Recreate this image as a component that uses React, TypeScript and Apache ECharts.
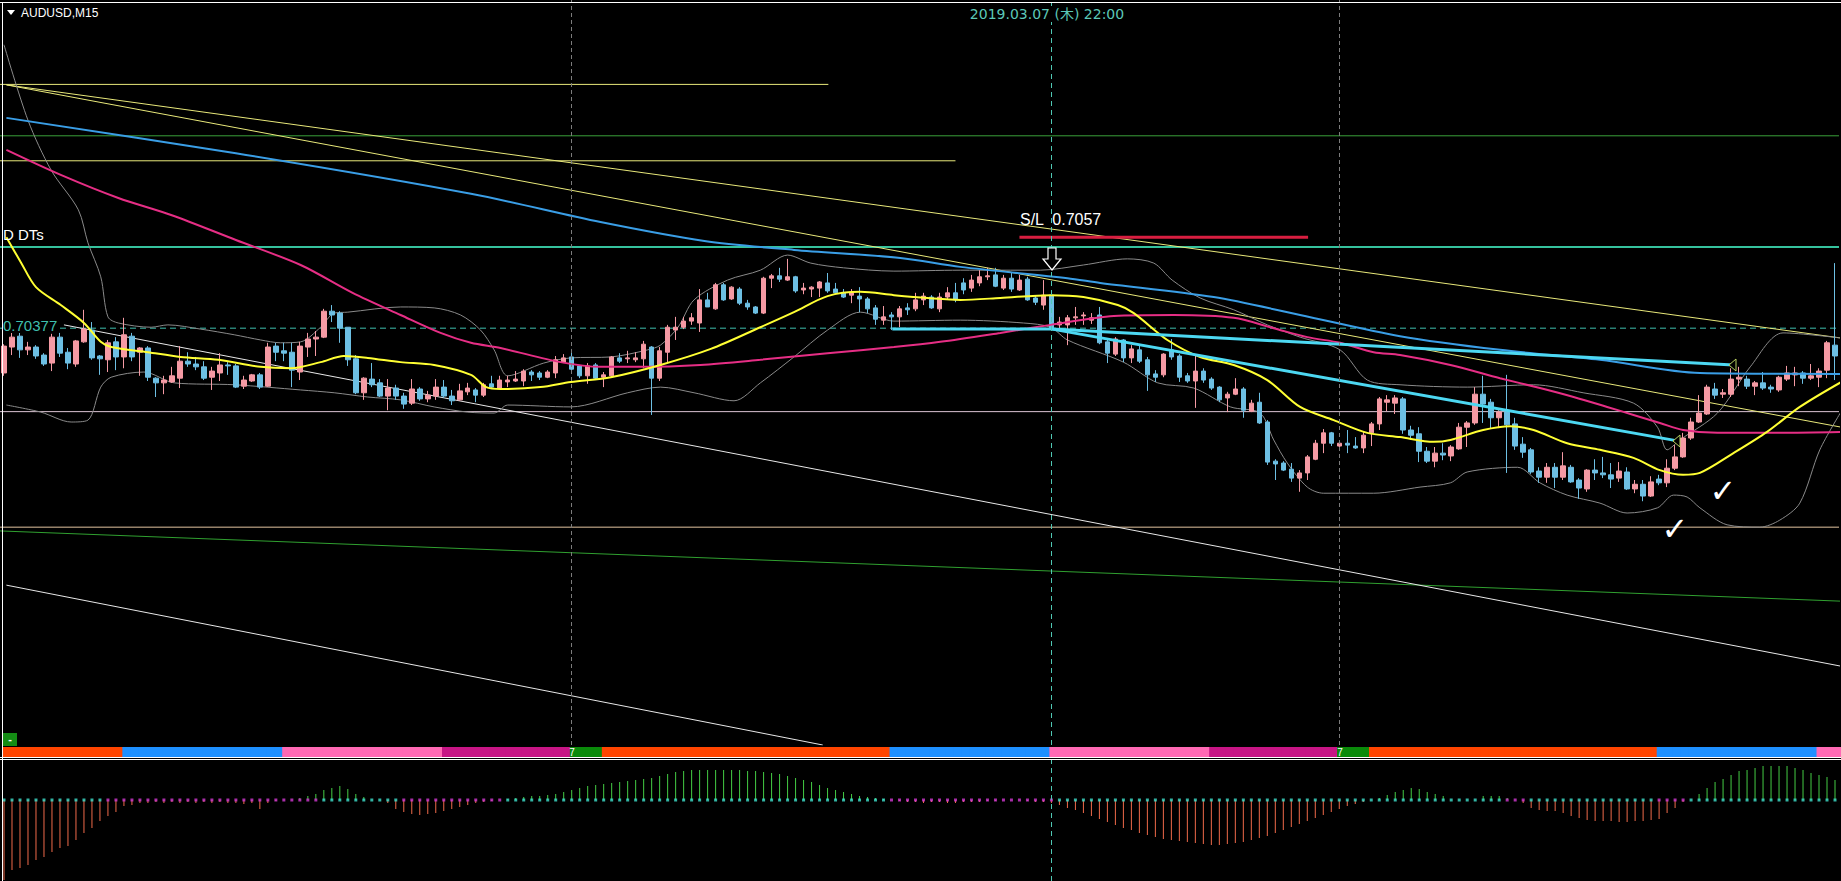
import React, { useEffect, useRef } from "react";
import * as echarts from "echarts";

// ---------- candle data (AUDUSD M15) ----------
const OPEN = [
  0.70282,0.70337,0.70360,0.70331,0.70337,0.70320,0.70303,0.70358,0.70326,0.70301,
  0.70348,0.70373,0.70318,0.70310,0.70348,0.70316,0.70360,0.70326,0.70335,0.70271,
  0.70261,0.70263,0.70271,0.70307,0.70301,0.70295,0.70273,0.70282,0.70299,0.70297,
  0.70254,0.70265,0.70278,0.70254,0.70339,0.70329,0.70326,0.70284,0.70337,0.70354,
  0.70358,0.70413,0.70409,0.70379,0.70312,0.70240,0.70269,0.70261,0.70233,0.70250,
  0.70233,0.70218,0.70248,0.70227,0.70233,0.70252,0.70233,0.70225,0.70242,0.70246,
  0.70235,0.70259,0.70250,0.70263,0.70265,0.70265,0.70284,0.70282,0.70273,0.70282,
  0.70305,0.70316,0.70297,0.70276,0.70299,0.70273,0.70276,0.70314,0.70312,0.70310,
  0.70312,0.70337,0.70271,0.70326,0.70373,0.70379,0.70392,0.70388,0.70437,0.70418,
  0.70469,0.70439,0.70460,0.70430,0.70422,0.70409,0.70483,0.70488,0.70479,0.70486,
  0.70458,0.70460,0.70462,0.70473,0.70460,0.70452,0.70447,0.70445,0.70439,0.70420,
  0.70394,0.70405,0.70401,0.70420,0.70418,0.70437,0.70443,0.70418,0.70443,0.70452,
  0.70473,0.70462,0.70473,0.70486,0.70490,0.70462,0.70483,0.70458,0.70481,0.70441,
  0.70426,0.70447,0.70384,0.70384,0.70399,0.70403,0.70394,0.70405,0.70348,0.70322,
  0.70352,0.70314,0.70331,0.70310,0.70280,0.70278,0.70331,0.70318,0.70276,0.70265,
  0.70286,0.70269,0.70252,0.70229,0.70237,0.70248,0.70201,0.70220,0.70178,0.70095,
  0.70091,0.70078,0.70059,0.70070,0.70099,0.70133,0.70155,0.70127,0.70133,0.70127,
  0.70123,0.70155,0.70174,0.70220,0.70218,0.70227,0.70161,0.70153,0.70116,0.70095,
  0.70112,0.70106,0.70121,0.70167,0.70176,0.70237,0.70220,0.70187,0.70199,0.70174,
  0.70131,0.70119,0.70074,0.70061,0.70082,0.70061,0.70082,0.70055,0.70036,0.70076,
  0.70070,0.70066,0.70059,0.70072,0.70036,0.70046,0.70021,0.70057,0.70049,0.70080,
  0.70104,0.70144,0.70178,0.70195,0.70248,0.70237,0.70237,0.70269,0.70269,0.70254,
  0.70261,0.70252,0.70246,0.70269,0.70278,0.70282,0.70271,0.70273,0.70288,0.70341,
];
const CLOSE = [
  0.70339,0.70358,0.70331,0.70337,0.70318,0.70301,0.70358,0.70324,0.70303,0.70350,
  0.70375,0.70314,0.70312,0.70346,0.70316,0.70363,0.70316,0.70335,0.70273,0.70261,
  0.70267,0.70276,0.70307,0.70301,0.70295,0.70271,0.70286,0.70299,0.70297,0.70252,
  0.70267,0.70278,0.70252,0.70337,0.70326,0.70324,0.70288,0.70339,0.70354,0.70358,
  0.70413,0.70405,0.70377,0.70310,0.70240,0.70271,0.70257,0.70233,0.70250,0.70233,
  0.70216,0.70248,0.70227,0.70235,0.70252,0.70233,0.70223,0.70244,0.70250,0.70235,
  0.70257,0.70252,0.70267,0.70267,0.70269,0.70286,0.70278,0.70273,0.70284,0.70310,
  0.70314,0.70290,0.70276,0.70297,0.70271,0.70278,0.70316,0.70307,0.70314,0.70314,
  0.70343,0.70271,0.70329,0.70379,0.70379,0.70392,0.70399,0.70437,0.70422,0.70469,
  0.70437,0.70464,0.70430,0.70422,0.70409,0.70483,0.70488,0.70481,0.70486,0.70456,
  0.70462,0.70464,0.70475,0.70456,0.70452,0.70443,0.70452,0.70439,0.70418,0.70396,
  0.70401,0.70401,0.70418,0.70416,0.70437,0.70445,0.70420,0.70443,0.70452,0.70437,
  0.70458,0.70479,0.70486,0.70488,0.70466,0.70483,0.70460,0.70479,0.70437,0.70432,
  0.70447,0.70377,0.70390,0.70399,0.70401,0.70405,0.70399,0.70346,0.70324,0.70354,
  0.70314,0.70333,0.70307,0.70278,0.70273,0.70322,0.70316,0.70273,0.70265,0.70286,
  0.70267,0.70250,0.70225,0.70237,0.70248,0.70203,0.70218,0.70176,0.70093,0.70089,
  0.70076,0.70059,0.70070,0.70104,0.70133,0.70155,0.70133,0.70133,0.70129,0.70123,
  0.70150,0.70174,0.70227,0.70225,0.70229,0.70161,0.70150,0.70116,0.70095,0.70112,
  0.70108,0.70125,0.70167,0.70176,0.70237,0.70216,0.70187,0.70199,0.70172,0.70127,
  0.70114,0.70072,0.70061,0.70082,0.70061,0.70085,0.70051,0.70038,0.70076,0.70070,
  0.70066,0.70057,0.70074,0.70036,0.70046,0.70021,0.70051,0.70049,0.70080,0.70104,
  0.70144,0.70178,0.70197,0.70252,0.70235,0.70240,0.70269,0.70273,0.70254,0.70261,
  0.70250,0.70248,0.70273,0.70282,0.70282,0.70271,0.70276,0.70286,0.70346,0.70318,
];
const LOW = [
  0.70276,0.70320,0.70314,0.70320,0.70312,0.70297,0.70286,0.70316,0.70290,0.70295,
  0.70346,0.70310,0.70278,0.70284,0.70288,0.70292,0.70307,0.70276,0.70265,0.70231,
  0.70237,0.70261,0.70250,0.70295,0.70288,0.70267,0.70246,0.70265,0.70278,0.70250,
  0.70248,0.70263,0.70248,0.70252,0.70307,0.70307,0.70252,0.70267,0.70316,0.70318,
  0.70356,0.70390,0.70346,0.70297,0.70237,0.70225,0.70252,0.70231,0.70203,0.70225,
  0.70206,0.70214,0.70223,0.70220,0.70225,0.70229,0.70214,0.70223,0.70235,0.70220,
  0.70231,0.70250,0.70248,0.70252,0.70263,0.70254,0.70265,0.70267,0.70271,0.70271,
  0.70303,0.70286,0.70271,0.70259,0.70267,0.70252,0.70273,0.70303,0.70303,0.70305,
  0.70292,0.70193,0.70265,0.70303,0.70352,0.70375,0.70384,0.70369,0.70422,0.70416,
  0.70435,0.70437,0.70426,0.70416,0.70407,0.70407,0.70462,0.70475,0.70477,0.70452,
  0.70449,0.70443,0.70443,0.70452,0.70449,0.70441,0.70430,0.70411,0.70409,0.70384,
  0.70384,0.70373,0.70379,0.70405,0.70413,0.70426,0.70418,0.70411,0.70437,0.70432,
  0.70449,0.70454,0.70466,0.70479,0.70464,0.70458,0.70454,0.70456,0.70435,0.70426,
  0.70416,0.70373,0.70377,0.70341,0.70384,0.70384,0.70386,0.70343,0.70303,0.70318,
  0.70305,0.70303,0.70303,0.70244,0.70263,0.70273,0.70310,0.70263,0.70261,0.70208,
  0.70261,0.70246,0.70220,0.70199,0.70235,0.70187,0.70199,0.70174,0.70087,0.70055,
  0.70074,0.70051,0.70030,0.70055,0.70097,0.70112,0.70127,0.70125,0.70112,0.70121,
  0.70112,0.70127,0.70161,0.70201,0.70195,0.70153,0.70140,0.70093,0.70091,0.70082,
  0.70097,0.70095,0.70119,0.70125,0.70172,0.70176,0.70165,0.70165,0.70070,0.70119,
  0.70102,0.70068,0.70049,0.70049,0.70038,0.70055,0.70049,0.70015,0.70030,0.70055,
  0.70059,0.70038,0.70051,0.70034,0.70027,0.70010,0.70019,0.70044,0.70040,0.70076,
  0.70102,0.70140,0.70176,0.70193,0.70227,0.70229,0.70231,0.70254,0.70248,0.70235,
  0.70246,0.70240,0.70242,0.70265,0.70254,0.70259,0.70267,0.70252,0.70271,0.70267,
];
const HIGH = [
  0.70343,0.70375,0.70375,0.70348,0.70341,0.70324,0.70365,0.70367,0.70335,0.70352,
  0.70416,0.70390,0.70320,0.70352,0.70358,0.70399,0.70367,0.70337,0.70339,0.70273,
  0.70276,0.70295,0.70339,0.70326,0.70316,0.70307,0.70295,0.70324,0.70305,0.70301,
  0.70276,0.70280,0.70282,0.70346,0.70346,0.70346,0.70346,0.70348,0.70367,0.70371,
  0.70418,0.70426,0.70413,0.70379,0.70320,0.70273,0.70303,0.70269,0.70269,0.70257,
  0.70240,0.70269,0.70252,0.70244,0.70269,0.70267,0.70246,0.70259,0.70261,0.70250,
  0.70261,0.70276,0.70276,0.70276,0.70286,0.70290,0.70288,0.70286,0.70288,0.70318,
  0.70322,0.70333,0.70299,0.70303,0.70303,0.70284,0.70318,0.70324,0.70329,0.70326,
  0.70350,0.70339,0.70337,0.70384,0.70401,0.70401,0.70409,0.70460,0.70452,0.70473,
  0.70473,0.70466,0.70464,0.70437,0.70424,0.70486,0.70492,0.70505,0.70524,0.70488,
  0.70473,0.70466,0.70477,0.70494,0.70473,0.70460,0.70460,0.70464,0.70443,0.70426,
  0.70424,0.70411,0.70424,0.70430,0.70452,0.70452,0.70447,0.70452,0.70464,0.70473,
  0.70483,0.70490,0.70500,0.70505,0.70505,0.70490,0.70494,0.70490,0.70486,0.70447,
  0.70479,0.70452,0.70401,0.70405,0.70422,0.70411,0.70409,0.70422,0.70352,0.70358,
  0.70354,0.70341,0.70341,0.70316,0.70288,0.70324,0.70354,0.70322,0.70282,0.70322,
  0.70292,0.70273,0.70254,0.70242,0.70271,0.70252,0.70225,0.70240,0.70182,0.70099,
  0.70095,0.70091,0.70076,0.70108,0.70140,0.70163,0.70157,0.70138,0.70161,0.70146,
  0.70157,0.70178,0.70231,0.70235,0.70235,0.70231,0.70170,0.70167,0.70125,0.70125,
  0.70133,0.70129,0.70176,0.70180,0.70252,0.70276,0.70227,0.70203,0.70278,0.70187,
  0.70146,0.70123,0.70082,0.70091,0.70091,0.70114,0.70087,0.70059,0.70078,0.70099,
  0.70104,0.70091,0.70093,0.70082,0.70055,0.70055,0.70063,0.70066,0.70099,0.70129,
  0.70155,0.70187,0.70235,0.70257,0.70261,0.70248,0.70292,0.70295,0.70276,0.70265,
  0.70284,0.70257,0.70276,0.70297,0.70295,0.70286,0.70301,0.70292,0.70350,0.70515,
];

// ---------- indicator lines: [bar index, price] ----------
const MA_YELLOW = [
  [0.3,0.70570],[2.1,0.70517],[4,0.70464],[7.1,0.70426],[10,0.70388],[12.1,0.70348],[13.4,0.70337],
  [18,0.70326],[22.1,0.70316],[26.8,0.70310],[32.1,0.70295],[35.9,0.70292],[39.6,0.70305],[42.5,0.70318],
  [45.5,0.70314],[49.6,0.70305],[53.8,0.70299],[58.4,0.70278],[60.3,0.70252],[62.1,0.70248],[67.1,0.70252],
  [70.9,0.70263],[75.9,0.70273],[82.1,0.70299],[88.4,0.70333],[94.6,0.70379],[98.8,0.70411],[103,0.70445],
  [107.1,0.70454],[111.3,0.70447],[115.5,0.70441],[119.6,0.70437],[124.6,0.70441],[130.9,0.70447],[135,0.70443],
  [139.3,0.70426],[141.3,0.70409],[145.5,0.70352],[149.6,0.70316],[153.8,0.70299],[158,0.70267],[162.1,0.70210],
  [166.3,0.70182],[170.5,0.70155],[174.6,0.70146],[178.8,0.70136],[180.9,0.70140],[185,0.70161],[188.4,0.70169],
  [191.3,0.70161],[195.5,0.70133],[199.6,0.70119],[203.8,0.70102],[207.1,0.70076],[210,0.70066],[212.1,0.70070],
  [216.3,0.70112],[220.5,0.70157],[224.6,0.70210],[229.8,0.70263],
];
const MA_MAGENTA = [
  [0.3,0.70755],[7.1,0.70702],[14.3,0.70653],[20.9,0.70617],[29,0.70564],[37.1,0.70511],[43.6,0.70452],
  [49.6,0.70405],[54.6,0.70367],[58.4,0.70346],[62.1,0.70335],[69.6,0.70305],[74.6,0.70295],[79.6,0.70295],
  [87.1,0.70299],[94.6,0.70310],[103,0.70324],[111.3,0.70337],[117.1,0.70348],[124.6,0.70367],[130.9,0.70384],
  [138.8,0.70403],[146.3,0.70405],[153.8,0.70399],[158.8,0.70377],[163,0.70358],[167.1,0.70346],[171.3,0.70326],
  [174.6,0.70320],[180.9,0.70299],[187.1,0.70271],[192.1,0.70250],[196.3,0.70231],[200.5,0.70210],[203.8,0.70193],
  [207.1,0.70176],[210,0.70161],[214.3,0.70155],[220.5,0.70155],[229.8,0.70157],
];
const MA_BLUE = [
  [0.3,0.70823],[29,0.70748],[58.4,0.70662],[74.6,0.70602],[87.6,0.70562],[98.8,0.70543],[112.1,0.70526],
  [119.6,0.70507],[133,0.70483],[137.1,0.70473],[151.3,0.70443],[162.1,0.70405],[174.6,0.70360],[187.1,0.70331],
  [199.6,0.70310],[212.1,0.70282],[229.8,0.70280],
];
const BB_UPPER = [
  [0,0.70978],[3,0.70818],[5.9,0.70712],[9.3,0.70628],[10.5,0.70558],[12.1,0.70486],[13,0.70401],[14.3,0.70388],
  [18.4,0.70379],[20.5,0.70384],[24.6,0.70375],[28.8,0.70363],[32.1,0.70352],[34.6,0.70346],[37.1,0.70348],
  [39.6,0.70379],[41.3,0.70409],[43,0.70411],[49.6,0.70422],[53.8,0.70420],[57.1,0.70405],[59.6,0.70373],
  [61.3,0.70331],[63,0.70276],[67.5,0.70303],[70.9,0.70314],[75.9,0.70316],[80.5,0.70331],[82.1,0.70341],
  [84.3,0.70379],[86.3,0.70437],[90.5,0.70479],[94.6,0.70500],[98,0.70532],[100.9,0.70515],[105,0.70505],
  [111.3,0.70498],[119.6,0.70500],[129.6,0.70500],[135,0.70511],[140.5,0.70524],[143.8,0.70515],[146.1,0.70479],
  [149.6,0.70441],[153.8,0.70416],[158,0.70384],[162.1,0.70358],[167.1,0.70331],[170.5,0.70267],[174.6,0.70257],
  [183,0.70252],[191.3,0.70257],[197.5,0.70240],[203.8,0.70218],[206.8,0.70167],[208,0.70119],[209.6,0.70140],
  [214.3,0.70197],[218.4,0.70295],[222.5,0.70367],[229.8,0.70356],
];
const BB_LOWER = [
  [0.3,0.70214],[4.6,0.70199],[8.4,0.70178],[10.5,0.70182],[12.1,0.70252],[13.4,0.70273],[17.5,0.70284],
  [21.3,0.70261],[28.8,0.70257],[37.1,0.70246],[41.3,0.70240],[45.5,0.70231],[49.6,0.70225],[53.8,0.70210],
  [58,0.70199],[61.3,0.70197],[63,0.70214],[70.9,0.70210],[78,0.70240],[82.1,0.70252],[86.3,0.70240],
  [91.3,0.70223],[94.6,0.70261],[98.8,0.70316],[103,0.70373],[107.1,0.70411],[111.3,0.70392],[119.6,0.70394],
  [127.5,0.70388],[130.9,0.70379],[133,0.70352],[140,0.70305],[144.3,0.70261],[148.8,0.70250],[153.4,0.70210],
  [157.1,0.70197],[158.8,0.70140],[160.5,0.70091],[163,0.70040],[165,0.70027],[171.3,0.70027],[177.1,0.70040],
  [180.9,0.70049],[183,0.70072],[189.3,0.70082],[192.1,0.70049],[195.5,0.70023],[199.6,0.70006],[203,0.69985],
  [206.8,0.69996],[208.8,0.70023],[210.5,0.70019],[212.1,0.69996],[215.5,0.69960],[219.6,0.69955],[222.1,0.69970],
  [224.6,0.70006],[227.1,0.70119],[229.8,0.70201],
];

// ---------- drawn objects ----------
const LEVEL_YELLOW_1 = 0.70894;
const LEVEL_YELLOW_2 = 0.70732;
const LEVEL_GREEN = 0.70785;
const LEVEL_TEAL = 0.70549;
const LEVEL_SL = 0.70570;
const LEVEL_DASH = 0.70377;
const LEVEL_PINK = 0.702;
const LEVEL_TAN = 0.69955;
const TREND_GREEN = [[-0.5,0.69947],[229.8,0.69798]];
const TREND_WHITE_1 = [[0.3,0.69832],[102.4,0.69493]];
const TREND_WHITE_2 = [[7.5,0.70384],[229.8,0.6966]];
const TREND_YELLOW_A = [[0.3,0.70893],[229.8,0.70356]];
const TREND_YELLOW_B = [[0.3,0.70893],[229.8,0.70167]];
const TREND_CYAN_1 = [[111.1,0.70375],[131.1,0.70375],[216.3,0.70299]];
const TREND_CYAN_2 = [[131.1,0.70375],[209.3,0.70138]];
const DAY_BREAKS = [71, 167];
const CROSS_BAR = 131;

// ---------- session strip & oscillator ----------
const SESSIONS = [
  [0,14,"O"],[15,34,"B"],[35,54,"P"],[55,70,"V"],[71,74,"G"],[75,110,"O"],[111,130,"B"],
  [131,150,"P"],[151,166,"V"],[167,170,"G"],[171,206,"O"],[207,226,"B"],[227,229,"P"],
];
const HIST = [
  -8.0,-7.0,-6.8,-6.5,-6.0,-5.7,-5.2,-4.8,-4.6,-4.0,-3.3,-2.8,-2.1,-1.6,-1.2,-0.6,
  -0.5,-0.3,-0.3,-0.2,-0.3,-0.2,-0.3,-0.2,-0.3,-0.2,-0.3,-0.2,-0.3,-0.3,-0.4,-0.3,
  -0.9,-0.3,-0.1,0,0,0.2,0.4,0.6,1.0,1.2,1.4,1.1,0.6,0.3,0,0,-0.3,-0.9,
  -1.2,-1.4,-1.5,-1.4,-1.3,-1.1,-0.9,-0.7,-0.5,-0.3,-0.2,-0.1,0,0.1,0.2,0.3,0.4,0.4,0.5,0.6,0.8,
  1.0,1.2,1.4,1.5,1.6,1.7,1.8,1.9,2.0,2.1,2.2,
  2.4,2.6,2.8,2.9,3.0,3.0,3.0,3.0,3.0,
  3.0,3.0,2.9,2.9,2.8,2.7,2.6,2.4,2.2,
  2.0,1.8,1.5,1.2,1.0,0.8,0.6,0.4,0.3,0.2,0.1,
  0,-0.1,-0.2,-0.2,-0.3,-0.2,-0.2,-0.3,-0.3,-0.2,-0.2,-0.2,-0.1,-0.1,0,0,0,-0.1,-0.2,-0.2,-0.3,
  -0.5,-0.8,-1.0,-1.3,-1.6,-1.9,-2.2,-2.5,-2.8,-3.0,-3.3,-3.5,-3.7,-3.9,-4.0,-4.1,-4.2,-4.3,-4.4,-4.5,-4.5,-4.4,-4.3,-4.2,-4.0,-3.8,-3.6,-3.3,-3.0,
  -2.7,-2.4,-2.1,-1.8,-1.5,-1.2,-0.9,-0.6,-0.4,-0.2,0,0.2,0.5,0.8,
  1.0,1.2,1.1,0.8,0.6,0.4,0,0,0,0,0.4,0.4,0.4,0.2,0,-0.3,-0.8,-1.0,-1.1,-1.1,-1.3,-1.6,-1.8,-2.0,-2.1,-2.1,-2.1,
  -2.2,-2.2,-2.1,-2.1,-2.0,-1.9,-1.3,-0.8,-0.2,0,0.6,1.2,1.8,2.1,2.5,2.9,3.0,3.2,3.4,3.4,3.4,3.4,3.2,3.0,2.7,2.5,2.3,2.0,
];
const DOT_MAGENTA = [[13,39],[50,62],[111,131],[188,190],[207,210]];

const Y_MIN = 0.69493;
const Y_MAX = 0.71073;

const C_UP = "#f59aa4";
const C_DOWN = "#6dbfe3";
const SESSION_COLORS: Record<string, string> = { O: "#ff4500", B: "#1e90ff", P: "#ff69b4", V: "#c71585", G: "#0a8a0a" };

export default function App() {
  const ref = useRef<HTMLDivElement>(null);
  useEffect(() => {
    if (!ref.current) return;
    const chart = echarts.init(ref.current, null, { renderer: "svg" });
    const N = OPEN.length;
    const start = Date.UTC(2019, 2, 6, 13, 15);
    const cats = Array.from({ length: N }, (_, i) => {
      const d = new Date(start + i * 15 * 60000);
      const p = (n: number) => String(n).padStart(2, "0");
      return `${p(d.getUTCMonth() + 1)}/${p(d.getUTCDate())} ${p(d.getUTCHours())}:${p(d.getUTCMinutes())}`;
    });
    const sessionColor = (i: number) => {
      for (const s of SESSIONS) if (i >= (s[0] as number) && i <= (s[1] as number)) return SESSION_COLORS[s[2] as string];
      return "#000";
    };
    const isMagenta = (i: number) => DOT_MAGENTA.some(([a, b]) => i >= a && i <= b);

    const line = (name: string, data: any[], color: string, width: number, extra: any = {}) => ({
      name, type: "line", xAxisIndex: 1, yAxisIndex: 0, data, symbol: "none", showSymbol: false,
      silent: true, smooth: extra.smooth ?? false, z: extra.z ?? 3,
      lineStyle: { color, width, type: extra.type ?? "solid" },
      markLine: extra.markLine,
    });
    const level = (p: number, a = -0.5, b = N - 0.5) => [[a, p], [b, p]];

    const option: any = {
      animation: false,
      backgroundColor: "#000000",
      grid: [
        { left: -1, top: 0, width: 1840, height: 745 },
        { left: 3, top: 747, width: 1840, height: 10 },
        { left: -1, top: 760, width: 1840, height: 121 },
      ],
      xAxis: [
        { type: "category", gridIndex: 0, data: cats, show: false },
        { type: "value", gridIndex: 0, min: -0.5, max: N - 0.5, show: false },
        { type: "category", gridIndex: 1, data: cats, show: false },
        { type: "category", gridIndex: 2, data: cats, show: false },
      ],
      yAxis: [
        { type: "value", gridIndex: 0, min: Y_MIN, max: Y_MAX, show: false },
        { type: "value", gridIndex: 1, min: 0, max: 1, show: false },
        { type: "value", gridIndex: 2, min: -8.1, max: 4.0, show: false },
      ],
      series: [
        line("yellowLevel1", level(LEVEL_YELLOW_1, -0.5, 103.1), "#e8e87a", 1, { z: 1 }),
        line("yellowLevel2", level(LEVEL_YELLOW_2, -0.5, 119), "#e8e87a", 1, { z: 1 }),
        line("greenLevel", level(LEVEL_GREEN), "#3aa03a", 1, { z: 1 }),
        line("tealLevel", level(LEVEL_TEAL), "#35c29d", 2, { z: 1 }),
        line("dashLevel", level(LEVEL_DASH), "#3fbfae", 1, { z: 1, type: [6, 4] }),
        line("pinkLevel", level(LEVEL_PINK), "#dcc4d4", 1, {
          z: 1,
          markLine: {
            silent: true, symbol: "none", label: { show: false },
            lineStyle: { color: "#7c7c7c", type: [4, 3], width: 1 },
            data: DAY_BREAKS.map((x) => ({ xAxis: x })),
          },
        }),
        line("tanLevel", level(LEVEL_TAN), "#e2c4a0", 1, {
          z: 1,
          markLine: {
            silent: true, symbol: "none", label: { show: false },
            lineStyle: { color: "#4fc8b4", type: [5, 4], width: 1 },
            data: [{ xAxis: CROSS_BAR }],
          },
        }),
        line("greenTrend", TREND_GREEN, "#30a030", 1, { z: 1 }),
        line("whiteTrend1", TREND_WHITE_1, "#e8e8e8", 1, { z: 1 }),
        line("whiteTrend2", TREND_WHITE_2, "#e8e8e8", 1, { z: 1 }),
        line("yellowTrendA", TREND_YELLOW_A, "#e8e87a", 1, { z: 1 }),
        line("yellowTrendB", TREND_YELLOW_B, "#e8e87a", 1, { z: 1 }),
        line("bbUpper", BB_UPPER, "#8a8a8a", 1, { z: 1, smooth: 0.3 }),
        line("bbLower", BB_LOWER, "#8a8a8a", 1, { z: 1, smooth: 0.3 }),
        line("slLine", level(LEVEL_SL, 127, 163.1), "#d81e40", 3, { z: 1 }),
        {
          name: "AUDUSD", type: "candlestick", xAxisIndex: 0, yAxisIndex: 0, z: 2,
          barWidth: 5, silent: true,
          data: OPEN.map((o, i) => [o, CLOSE[i], LOW[i], HIGH[i]]),
          itemStyle: { color: C_UP, color0: C_DOWN, borderColor: C_UP, borderColor0: C_DOWN, borderWidth: 1 },
        },
        line("maBlue", MA_BLUE, "#3a9ee6", 2, { smooth: 0.3 }),
        line("maMagenta", MA_MAGENTA, "#e62e85", 2, { smooth: 0.3 }),
        line("maYellow", MA_YELLOW, "#ffff33", 2, { smooth: 0.3 }),
        line("cyan1", TREND_CYAN_1, "#4dd8f2", 3, { z: 4 }),
        line("cyan2", TREND_CYAN_2, "#4dd8f2", 3, { z: 4 }),
        {
          name: "session", type: "bar", xAxisIndex: 2, yAxisIndex: 1, barWidth: 9, silent: true,
          data: cats.map((_, i) => ({ value: 1, itemStyle: { color: sessionColor(i) } })),
        },
        {
          name: "hist", type: "bar", xAxisIndex: 3, yAxisIndex: 2, barWidth: 1, silent: true,
          data: HIST.map((v) => ({ value: v, itemStyle: { color: v >= 0 ? "#44cc44" : "#f06a4a" } })),
          markLine: {
            silent: true, symbol: "none", label: { show: false },
            lineStyle: { color: "#4fc8b4", type: [5, 4], width: 1 },
            data: [{ xAxis: CROSS_BAR }],
          },
        },
        {
          name: "histDots", type: "scatter", xAxisIndex: 3, yAxisIndex: 2, symbol: "rect", symbolSize: 3, silent: true, z: 3,
          data: HIST.map((_, i) => ({ value: 0, itemStyle: { color: isMagenta(i) ? "#d23ad2" : "#3ee0cc" } })),
        },
      ],
      graphic: [
        { type: "rect", shape: { x: 0, y: 2, width: 1841, height: 1 }, style: { fill: "#ffffff" }, z: 100 },
        { type: "rect", shape: { x: 2, y: 2, width: 1, height: 879 }, style: { fill: "#ffffff" }, z: 100 },
        { type: "rect", shape: { x: 0, y: 757, width: 1841, height: 1 }, style: { fill: "#ffffff" }, z: 100 },
        { type: "rect", shape: { x: 0, y: 759, width: 1841, height: 1 }, style: { fill: "#ffffff" }, z: 100 },
        { type: "polygon", shape: { points: [[7, 10], [15, 10], [11, 15]] }, style: { fill: "#ffffff" }, z: 100 },
        { type: "text", x: 21, y: 7, style: { text: "AUDUSD,M15", fill: "#ffffff", font: "12px 'Liberation Sans', Arial, sans-serif" }, z: 100 },
        {
          type: "text", x: 1047, y: 6, z: 100,
          style: { text: "2019.03.07 (木) 22:00", fill: "#5cc8b8", font: "14px 'DejaVu Sans', 'Noto Sans CJK JP', sans-serif", textAlign: "center", backgroundColor: "#000", padding: [1, 2] },
        },
        { type: "text", x: 1020, y: 211, z: 100, style: { text: "S/L  0.7057", fill: "#ffffff", font: "16px 'Liberation Sans', Arial, sans-serif" } },
        { type: "text", x: 3, y: 227, z: 100, style: { text: "D DTs", fill: "#ffffff", font: "15px 'Liberation Sans', Arial, sans-serif" } },
        { type: "text", x: 3, y: 318, z: 100, style: { text: "0.70377", fill: "#3fbfae", font: "15px 'Liberation Sans', Arial, sans-serif", backgroundColor: "#000" } },
        {
          type: "polygon", z: 100,
          shape: { points: [[1048, 248], [1056, 248], [1056, 259], [1061, 259], [1052, 270], [1043, 259], [1048, 259]] },
          style: { fill: "#000", stroke: "#ffffff", lineWidth: 1.2 },
        },
        { type: "polygon", z: 100, shape: { points: [[1736, 359], [1736, 371], [1729, 365]] }, style: { fill: "#000", stroke: "#b8d060", lineWidth: 1 } },
        { type: "polygon", z: 100, shape: { points: [[1680, 435], [1680, 447], [1673, 441]] }, style: { fill: "#000", stroke: "#b8d060", lineWidth: 1 } },
        { type: "text", x: 1723, y: 491, z: 100, style: { text: "✓", fill: "#ffffff", font: "bold 32px 'DejaVu Sans', sans-serif", textAlign: "center", textVerticalAlign: "middle" } },
        { type: "text", x: 1675, y: 529, z: 100, style: { text: "✓", fill: "#ffffff", font: "bold 32px 'DejaVu Sans', sans-serif", textAlign: "center", textVerticalAlign: "middle" } },
        { type: "rect", z: 100, shape: { x: 3, y: 733, width: 14, height: 13 }, style: { fill: "#148c14" } },
        { type: "text", x: 10, y: 739, z: 101, style: { text: "-", fill: "#ffffff", font: "bold 11px 'Liberation Sans', Arial, sans-serif", textAlign: "center", textVerticalAlign: "middle" } },
        { type: "text", x: 572, y: 752, z: 101, style: { text: "7", fill: "#ffffff", font: "10px 'Liberation Sans', Arial, sans-serif", textAlign: "center", textVerticalAlign: "middle" } },
        { type: "text", x: 1340, y: 752, z: 101, style: { text: "7", fill: "#ffffff", font: "10px 'Liberation Sans', Arial, sans-serif", textAlign: "center", textVerticalAlign: "middle" } },
      ],
    };
    chart.setOption(option);
    return () => chart.dispose();
  }, []);
  return (
    <div
      ref={ref}
      style={{ position: "fixed", left: 0, top: 0, width: 1841, height: 881, background: "#000" }}
    />
  );
}
